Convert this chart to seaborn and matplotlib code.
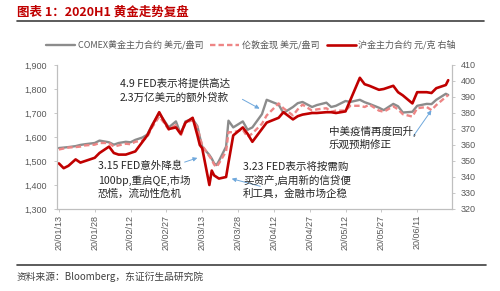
import matplotlib
matplotlib.use('Agg')
import matplotlib.pyplot as plt
from matplotlib.lines import Line2D
from matplotlib.ticker import FuncFormatter, MultipleLocator
import matplotlib.dates as mdates
import seaborn as sns
import pandas as pd

# ---------------- data ----------------
dates = ["2020-01-13", "2020-01-15", "2020-01-17", "2020-01-20", "2020-01-22", "2020-01-24",
         "2020-01-28", "2020-01-30", "2020-02-03", "2020-02-05", "2020-02-07", "2020-02-10",
         "2020-02-12", "2020-02-14", "2020-02-17", "2020-02-19", "2020-02-21", "2020-02-24",
         "2020-02-26", "2020-02-28", "2020-03-02", "2020-03-04", "2020-03-06", "2020-03-09",
         "2020-03-11", "2020-03-12", "2020-03-13", "2020-03-16", "2020-03-17", "2020-03-18",
         "2020-03-19", "2020-03-20", "2020-03-23", "2020-03-24", "2020-03-26", "2020-03-30",
         "2020-04-01", "2020-04-03", "2020-04-07", "2020-04-09", "2020-04-14", "2020-04-16",
         "2020-04-20", "2020-04-22", "2020-04-24", "2020-04-28", "2020-04-30", "2020-05-04",
         "2020-05-06", "2020-05-08", "2020-05-12", "2020-05-14", "2020-05-18", "2020-05-20",
         "2020-05-22", "2020-05-26", "2020-05-28", "2020-06-01", "2020-06-03", "2020-06-05",
         "2020-06-09", "2020-06-11", "2020-06-15", "2020-06-17", "2020-06-19", "2020-06-23",
         "2020-06-24"]

comex = [1554, 1556, 1558, 1562, 1567, 1570,
         1575, 1585, 1578, 1568, 1575, 1580,
         1578, 1588, 1598, 1610, 1650, 1698,
         1670, 1640, 1665, 1612, 1665, 1675,
         1645, 1600, 1560, 1525, 1510, 1490,
         1483, 1500, 1560, 1668, 1640, 1665,
         1630, 1640, 1695, 1755, 1735, 1700,
         1725, 1741, 1746, 1725, 1733, 1743,
         1725, 1730, 1750, 1746, 1755, 1745,
         1738, 1722, 1712, 1738, 1728, 1702,
         1705, 1730, 1738, 1737, 1755, 1780,
         1775]

london = [1548, 1552, 1556, 1558, 1560, 1565,
          1568, 1575, 1575, 1560, 1565, 1572,
          1570, 1580, 1585, 1600, 1640, 1685,
          1660, 1630, 1650, 1605, 1660, 1670,
          1640, 1600, 1565, 1520, 1505, 1485,
          1475, 1490, 1540, 1620, 1620, 1630,
          1600, 1615, 1655, 1690, 1740, 1720,
          1690, 1715, 1735, 1710, 1715, 1720,
          1705, 1710, 1710, 1730, 1730, 1725,
          1735, 1710, 1705, 1728, 1715, 1695,
          1685, 1720, 1725, 1712, 1733, 1767,
          1775]

shfe = [348.5, 345.5, 347, 351, 349, 350,
        352, 355, 359, 355, 354, 354,
        355, 356, 362, 366, 372, 380.5,
        375, 370, 371, 367, 374, 377,
        366, 360, 358, 335, 344, 341,
        340, 339, 340, 349, 366, 371,
        367, 362, 370, 374, 377, 380.5,
        376, 378, 379, 380, 380, 380.5,
        380.5, 380, 381, 388, 402, 398,
        397, 394.5, 395, 397, 393, 391,
        386, 393, 393, 392.5, 395.5, 397.5,
        400.5]

tick_dates = ["2020-01-13", "2020-01-28", "2020-02-12", "2020-02-27", "2020-03-13",
              "2020-03-28", "2020-04-12", "2020-04-27", "2020-05-12", "2020-05-27",
              "2020-06-11"]

series_labels = ["COMEX黄金主力合约 美元/盎司", "伦敦金现 美元/盎司", "沪金主力合约 元/克 右轴"]

title_text = "图表 1：2020H1 黄金走势复盘"
source_text = "资料来源：Bloomberg，东证衍生品研究院"

notes = [
    ("4.9 FED表示将提供高达\n2.3万亿美元的额外贷款", (120, 90.5), (240, 98), (262, 110)),
    ("3.15 FED意外降息\n100bp,重启QE,市场\n恐慌，流动性危机", (98, 180), (182, 163), (200, 157)),
    ("3.23 FED表示将按需购\n买资产,启用新的信贷便\n利工具，金融市场企稳", (243, 180.5), (263, 187), (229, 178)),
    ("中美疫情再度回升,\n乐观预期修正", (329, 138), (412, 138), (433, 108)),
]

# ---------------- style ----------------
sns.set_theme(style='white')
plt.rcParams['font.family'] = ['Noto Sans CJK SC', 'DejaVu Sans']
plt.rcParams['axes.unicode_minus'] = False

W, H = 500, 291
df = pd.DataFrame({'date': pd.to_datetime(dates), 'comex': comex,
                   'london': london, 'shfe': shfe})

fig = plt.figure(figsize=(W / 100, H / 100), dpi=100)
fig.patch.set_facecolor('white')

ax = fig.add_axes([57 / W, (H - 209) / H, (452 - 57) / W, (209 - 65) / H])
ax2 = ax.twinx()

GRAY = '#8C8C8C'
PINK = '#EE8585'
RED = '#C00000'

sns.lineplot(data=df, x='date', y='comex', ax=ax, color=GRAY, lw=1.7, legend=False)
sns.lineplot(data=df, x='date', y='london', ax=ax, color=PINK, lw=1.7, legend=False)
ax.lines[-1].set_dashes([2.3, 1.3])
sns.lineplot(data=df, x='date', y='shfe', ax=ax2, color=RED, lw=1.9, legend=False)

ax.set_ylim(1300, 1900)
ax2.set_ylim(320, 410)
ax.set_xlim(pd.Timestamp("2020-01-12 05:00"), pd.Timestamp("2020-06-25 14:00"))

ax.yaxis.set_major_locator(MultipleLocator(100))
ax.yaxis.set_major_formatter(FuncFormatter(lambda v, p: f"{int(v):,}"))
ax2.yaxis.set_major_locator(MultipleLocator(10))
ax.set_xticks(pd.to_datetime(tick_dates))
ax.xaxis.set_major_formatter(mdates.DateFormatter('%y/%m/%d'))

for a in (ax, ax2):
    a.set_xlabel('')
    a.set_ylabel('')
    for s in a.spines.values():
        s.set_color('#BFBFBF')
        s.set_linewidth(0.8)
    a.spines['top'].set_visible(False)

ax.tick_params(axis='y', which='major', direction='out', length=2.5, width=0.6,
               color='#BFBFBF', labelsize=6.5, labelcolor='#595959', pad=5, left=True)
ax2.tick_params(axis='y', which='major', direction='out', length=2.5, width=0.6,
                color='#BFBFBF', labelsize=6.5, labelcolor='#595959', pad=4, right=True)
ax.tick_params(axis='x', which='major', direction='out', length=2, width=0.6,
               color='#BFBFBF', labelsize=6.5, labelcolor='#595959', pad=2, bottom=True)
for lab in ax.get_xticklabels():
    lab.set_rotation(90)
for lab in ax.get_xticklabels() + ax.get_yticklabels() + ax2.get_yticklabels():
    lab.set_fontfamily(['Liberation Sans', 'DejaVu Sans'])

ax.grid(False)
ax2.grid(False)

# ---------------- legend ----------------
handles = [Line2D([], [], color=GRAY, lw=1.7),
           Line2D([], [], color=PINK, lw=1.7, dashes=[2.3, 1.3]),
           Line2D([], [], color=RED, lw=1.9)]
leg = fig.legend(handles, series_labels, loc='center', bbox_to_anchor=(251 / W, 1 - 45 / H),
                 ncol=3, frameon=False, fontsize=6.5, handlelength=3.2, handletextpad=0.3,
                 columnspacing=0.8)
for t in leg.get_texts():
    t.set_color('#595959')

# ---------------- title / source ----------------
fig.text(17 / W, 1 - 12 / H, title_text, color=RED, fontsize=9, fontweight='bold',
         ha='left', va='center')
fig.add_artist(Line2D([17 / W, 484 / W], [1 - 21 / H, 1 - 21 / H], color='#404040', lw=1.2))
fig.add_artist(Line2D([17 / W, 486 / W], [1 - 265 / H, 1 - 265 / H], color='#404040', lw=1.2))
fig.text(17 / W, 1 - 277 / H, source_text, color='#404040', fontsize=7, ha='left', va='center')

# ---------------- annotations ----------------
for txt, (tx, ty), (ax0, ay0), (ax1, ay1) in notes:
    fig.text(tx / W, 1 - ty / H, txt, fontsize=7.6, color='#262626', ha='left', va='center',
             linespacing=1.35)
    fig.add_artist(matplotlib.patches.FancyArrowPatch(
        (ax0 / W, 1 - ay0 / H), (ax1 / W, 1 - ay1 / H), transform=fig.transFigure,
        arrowstyle='-|>', mutation_scale=6, color='#6FA8DC', lw=0.7))

fig.savefig('out.png', dpi=100, facecolor='white')
